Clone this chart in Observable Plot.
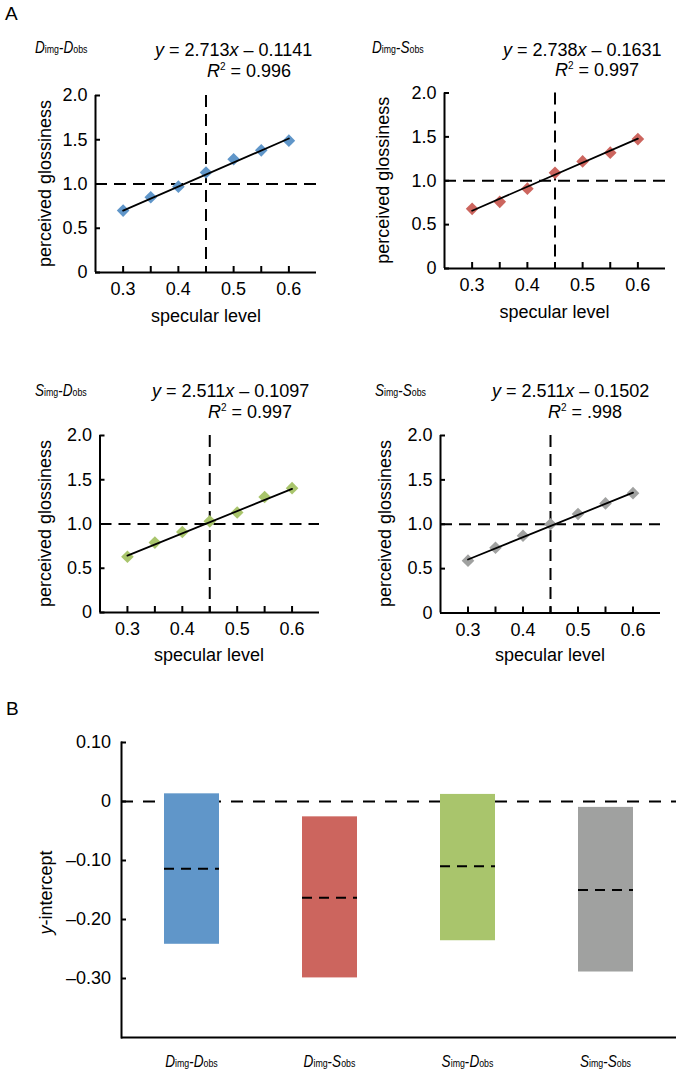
<!DOCTYPE html>
<html>
<head>
<meta charset="utf-8">
<script src="https://cdn.jsdelivr.net/npm/d3@7"></script>
<script src="https://cdn.jsdelivr.net/npm/@observablehq/plot@0.6"></script>
<style>
  html, body { margin: 0; padding: 0; background: #fff; }
  #root { position: relative; width: 681px; height: 1075px; overflow: hidden;
          font-family: "Liberation Sans", Arial, Helvetica, sans-serif; }
  #root > svg { position: absolute; }
</style>
</head>
<body>
<div id="root"></div>
<script>
// ---------------- data ----------------
const specular = [0.3, 0.35, 0.4, 0.45, 0.5, 0.55, 0.6];
const glossDD = [0.70, 0.85, 0.97, 1.13, 1.28, 1.38, 1.49];
const glossDS = [0.68, 0.76, 0.91, 1.09, 1.22, 1.32, 1.475];
const glossSD = [0.63, 0.79, 0.91, 1.03, 1.13, 1.305, 1.405];
const glossSS = [0.59, 0.735, 0.87, 1.00, 1.115, 1.235, 1.35];
const conditions = ["Dimg-Dobs", "Dimg-Sobs", "Simg-Dobs", "Simg-Sobs"];
const slopes = [2.713, 2.738, 2.511, 2.511];
const intercepts = [-0.1141, -0.1631, -0.1097, -0.1502];
const r2Labels = ["0.996", "0.997", "0.997", ".998"];
const interceptHigh = [0.013, -0.026, 0.012, -0.010];
const interceptLow = [-0.242, -0.299, -0.236, -0.289];
const colors = ["#6096c9", "#cc655e", "#a9c56c", "#a0a1a0"];
const refSpecular = [0.45];
const refGloss = [1.0];
const xDomainA = [0.25, 0.65];
const yDomainA = [0, 2];
const yDomainB = [-0.40, 0.10];
const xTicksA = [0.3, 0.35, 0.4, 0.45, 0.5, 0.55, 0.6];
const xTickLabelsA = ["0.3", "", "0.4", "", "0.5", "", "0.6"];
const yTicksA = [0, 0.5, 1, 1.5, 2];
const yTickLabelsA = ["0", "0.5", "1.0", "1.5", "2.0"];
const yTicksB = [0.10, 0, -0.10, -0.20, -0.30];
const yTickLabelsB = ["0.10", "0", "\u20130.10", "\u20130.20", "\u20130.30"];
const xLabelA = "specular level";
const yLabelA = "perceived glossiness";
const yLabelB = "-intercept";

// ---------------- layout ----------------
const FONT = "'Liberation Sans', Arial, Helvetica, sans-serif";
const root = document.getElementById("root");
const glosses = [glossDD, glossDS, glossSD, glossSS];
const layoutA = [
  {svgLeft: 0,   svgTop: 0,   left: 95,  right: 316, top: 95,   bottom: 272,
   sub: [35, 52.5], eq: [155, 56], r2: [207, 76.5], yl: [46, 183.5], xl: [206, 321.5]},
  {svgLeft: 340, svgTop: 0,   left: 444, right: 665, top: 92.5, bottom: 268,
   sub: [372, 52.5], eq: [503, 55.5], r2: [555, 76], yl: [384.5, 180.2], xl: [554.5, 317.5]},
  {svgLeft: 0,   svgTop: 340, left: 99.5, right: 319, top: 435, bottom: 612,
   sub: [35, 396], eq: [152, 397], r2: [208, 418], yl: [46.5, 523.5], xl: [209, 660.5]},
  {svgLeft: 340, svgTop: 340, left: 440, right: 660, top: 435, bottom: 612.5,
   sub: [375, 396], eq: [492, 397], r2: [548, 418], yl: [386.5, 523.5], xl: [550, 660.5]}
];
const xLab = new Map(xTicksA.map((t, i) => [t, xTickLabelsA[i]]));
const yLab = new Map(yTicksA.map((t, i) => [t, yTickLabelsA[i]]));
const yLabB = new Map(yTicksB.map((t, i) => [t, yTickLabelsB[i]]));

const W = 341, H = 330;
layoutA.forEach((p, i) => {
  const pts = specular.map((x, j) => ({x, y: glosses[i][j]}));
  const fit = d3.extent(specular).map(x => ({x, y: slopes[i] * x + intercepts[i]}));
  const chart = Plot.plot({
    width: W, height: H,
    marginLeft: p.left - p.svgLeft,
    marginRight: p.svgLeft + W - p.right,
    marginTop: p.top - p.svgTop,
    marginBottom: p.svgTop + H - p.bottom,
    x: {domain: xDomainA, label: null},
    y: {domain: yDomainA, label: null},
    style: {fontSize: "18px", fontFamily: FONT, color: "black", background: "transparent", overflow: "visible"},
    marks: [
      Plot.ruleY(refGloss, {strokeWidth: 2, strokeDasharray: "12,7"}),
      Plot.ruleX(refSpecular, {strokeWidth: 2, strokeDasharray: "12,7"}),
      Plot.dot(pts, {x: "x", y: "y", symbol: "diamond2", r: 5.7, fill: colors[i], stroke: "none"}),
      Plot.line(fit, {x: "x", y: "y", stroke: "black", strokeWidth: 1.8}),
      Plot.ruleX([xDomainA[0]], {strokeWidth: 2}),
      Plot.ruleY([yDomainA[0]], {strokeWidth: 2}),
      Plot.axisX({ticks: xTicksA, tickFormat: d => xLab.get(d), tickSize: -6, tickPadding: 16, strokeWidth: 2, label: null}),
      Plot.axisY({ticks: yTicksA, tickFormat: d => yLab.get(d), tickSize: -5, tickPadding: 13, strokeWidth: 2, label: null})
    ]
  });
  chart.style.left = p.svgLeft + "px";
  chart.style.top = p.svgTop + "px";
  root.appendChild(chart);
});

// Panel B
const dataB = conditions.map((c, i) => ({cond: c, low: interceptLow[i], high: interceptHigh[i], intercept: intercepts[i], color: colors[i]}));
const B_TOP = 700;
const chartB = Plot.plot({
  width: 681, height: 375,
  marginLeft: 121, marginRight: 5, marginTop: 42, marginBottom: 38,
  x: {domain: conditions, paddingInner: 0.6, paddingOuter: 0.3, axis: null, label: null},
  y: {domain: yDomainB, label: null},
  color: {type: "identity"},
  style: {fontSize: "18px", fontFamily: FONT, color: "black", background: "transparent", overflow: "visible"},
  marks: [
    Plot.ruleY([0], {strokeWidth: 2, strokeDasharray: "12,10"}),
    Plot.barY(dataB, {x: "cond", y1: "low", y2: "high", fill: "color"}),
    Plot.tickY(dataB, {x: "cond", y: "intercept", strokeWidth: 2, strokeDasharray: "10,7"}),
    Plot.ruleY([yDomainB[0]], {strokeWidth: 2}),
    Plot.frame({anchor: "left", strokeWidth: 2}),
    Plot.axisY({ticks: yTicksB, tickFormat: d => yLabB.get(d), tickSize: -5, tickPadding: 15.5, strokeWidth: 2, label: null})
  ]
});
chartB.style.left = "0px";
chartB.style.top = B_TOP + "px";
root.appendChild(chartB);

// ---------------- text overlay ----------------
const NS = "http://www.w3.org/2000/svg";
function el(tag, attrs, parent, text) {
  const e = document.createElementNS(NS, tag);
  for (const k in attrs) e.setAttribute(k, attrs[k]);
  if (text != null) e.textContent = text;
  if (parent) parent.appendChild(e);
  return e;
}
const ov = el("svg", {width: 681, height: 1075, viewBox: "0 0 681 1075"}, root);
ov.style.left = "0px"; ov.style.top = "0px"; ov.style.pointerEvents = "none";
ov.style.fontFamily = FONT;

function condLabel(cond, x, y, anchor) {
  const g = el("g", {transform: `translate(${x},${y}) scale(0.8,1)`}, ov);
  const t = el("text", {"text-anchor": anchor, "font-size": 17, fill: "black"}, g);
  const [a, b] = cond.split("-");
  el("tspan", {"font-style": "italic"}, t, a[0]);
  el("tspan", {"font-size": 11}, t, a.slice(1));
  el("tspan", {}, t, "-");
  el("tspan", {"font-style": "italic"}, t, b[0]);
  el("tspan", {"font-size": 11}, t, b.slice(1));
}

el("text", {x: 5, y: 20, "font-size": 19}, ov, "A");
el("text", {x: 6, y: 715, "font-size": 19}, ov, "B");

layoutA.forEach((p, i) => {
  condLabel(conditions[i], p.sub[0], p.sub[1], "start");
  const eq = el("text", {x: p.eq[0], y: p.eq[1], "font-size": 18}, ov);
  el("tspan", {"font-style": "italic"}, eq, "y");
  el("tspan", {}, eq, " = " + slopes[i].toFixed(3));
  el("tspan", {"font-style": "italic"}, eq, "x");
  el("tspan", {}, eq, " \u2013 " + Math.abs(intercepts[i]).toFixed(4));
  const r2 = el("text", {x: p.r2[0], y: p.r2[1], "font-size": 18}, ov);
  el("tspan", {"font-style": "italic"}, r2, "R");
  el("tspan", {"font-size": 10, dy: -7}, r2, "2");
  el("tspan", {dy: 7}, r2, " = " + r2Labels[i]);
  el("text", {transform: `translate(${p.yl[0] + 4.6},${p.yl[1]}) rotate(-90)`, "text-anchor": "middle", "font-size": 18}, ov, yLabelA);
  el("text", {x: p.xl[0], y: p.xl[1], "text-anchor": "middle", "font-size": 18}, ov, xLabelA);
});

const yl = el("text", {transform: `translate(${47.5 + 4.6},892.5) rotate(-90)`, "text-anchor": "middle", "font-size": 18}, ov);
el("tspan", {"font-style": "italic"}, yl, "y");
el("tspan", {}, yl, yLabelB);

const sx = chartB.scale("x");
conditions.forEach(c => {
  condLabel(c, sx.apply(c) + sx.bandwidth / 2, 1067, "middle");
});
</script>
</body>
</html>
